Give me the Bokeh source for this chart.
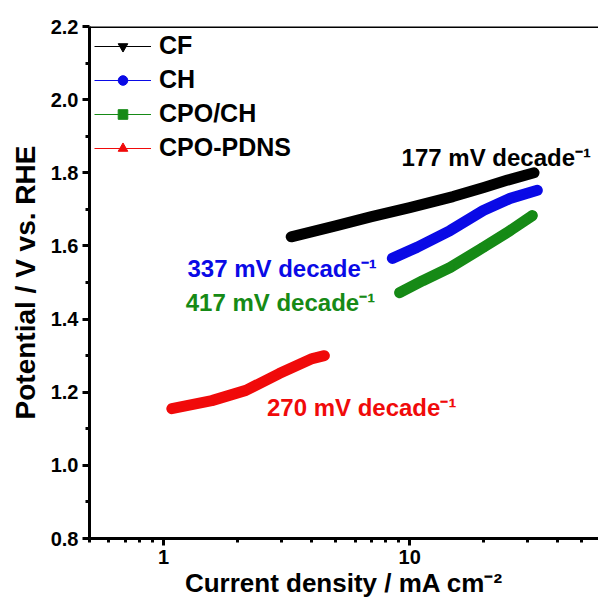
from bokeh.plotting import figure
from bokeh.models import (FixedTicker, PrintfTickFormatter, Span, Legend, LegendItem,
                          ColumnDataSource, Range1d)
from bokeh.core.properties import value
from bokeh.embed import file_html
from bokeh.resources import INLINE

# ---- data ----
cf_x = [3.3, 5.0, 7.0, 10.0, 15.0, 20.0, 25.0, 32.0]
cf_y = [1.625, 1.655, 1.680, 1.705, 1.735, 1.760, 1.780, 1.800]

ch_x = [8.5, 10.7, 14.6, 19.9, 25.6, 33.0]
ch_y = [1.566, 1.596, 1.642, 1.697, 1.730, 1.752]

cpoch_x = [9.1, 11.3, 14.6, 19.9, 25.6, 31.5]
cpoch_y = [1.472, 1.505, 1.541, 1.596, 1.642, 1.683]

pdns_x = [1.08, 1.57, 2.16, 2.95, 4.02, 4.5]
pdns_y = [1.155, 1.177, 1.205, 1.251, 1.292, 1.300]

series_names = ["CF", "CH", "CPO/CH", "CPO-PDNS"]
series_colors = ["#000000", "#0a0ae6", "#168a16", "#f00a0a"]
series_markers = ["inverted_triangle", "circle", "square", "triangle"]

ann_text = ["177 mV decade\u207b\u00b9", "337 mV decade\u207b\u00b9",
            "417 mV decade\u207b\u00b9", "270 mV decade\u207b\u00b9"]
ann_x = [9.27, 1.25, 1.23, 2.63]
ann_y = [1.842, 1.538, 1.445, 1.158]

x_major = [1, 10]
x_minor = [0.5, 0.6, 0.7, 0.8, 0.9, 2, 3, 4, 5, 6, 7, 8, 9, 20, 30, 40, 50]
y_major = [0.8, 1.0, 1.2, 1.4, 1.6, 1.8, 2.0, 2.2]
y_minor = [0.9, 1.1, 1.3, 1.5, 1.7, 1.9, 2.1]

FONT = "Liberation Sans"

p = figure(width=598, height=604, x_axis_type="log",
           x_range=Range1d(0.5, 58.5), y_range=Range1d(0.8, 2.2),
           output_backend="svg", toolbar_location=None,
           min_border_left=89, min_border_right=0, min_border_top=26,
           min_border_bottom=66)
p.grid.visible = False
p.outline_line_color = None
p.background_fill_color = "white"

for ax in (p.xaxis[0], p.yaxis[0]):
    ax.axis_line_width = 3
    ax.major_tick_line_width = 3
    ax.minor_tick_line_width = 3
    ax.major_tick_in = 0
    ax.major_tick_out = 7
    ax.minor_tick_in = 0
    ax.minor_tick_out = 4
    ax.major_label_text_font = FONT
    ax.major_label_text_font_style = "bold"
    ax.major_label_text_font_size = "20px"
    ax.major_label_text_color = "black"
    ax.axis_label_text_font = FONT
    ax.axis_label_text_font_style = "bold"
    ax.axis_label_text_font_size = "26px"
    ax.axis_label_text_color = "black"

p.xaxis.ticker = FixedTicker(ticks=x_major, minor_ticks=x_minor)
p.xaxis.formatter = PrintfTickFormatter(format="%d")
p.xaxis.major_label_standoff = 4
p.xaxis.axis_label = "Current density / mA cm\u207b\u00b2"
p.xaxis.axis_label_standoff = 1

p.yaxis.ticker = FixedTicker(ticks=y_major, minor_ticks=y_minor)
p.yaxis.formatter = PrintfTickFormatter(format="%.1f")
p.yaxis.major_label_standoff = 4
p.yaxis.axis_label = "Potential / V vs. RHE"
p.yaxis.axis_label_text_font_size = "28px"
p.yaxis.axis_label_standoff = 7

p.add_layout(Span(location=2.2, dimension="width", line_color="black", line_width=3))

data = [(cf_x, cf_y), (ch_x, ch_y), (cpoch_x, cpoch_y), (pdns_x, pdns_y)]
items = []
for (xs, ys), name, col, mk in zip(data, series_names, series_colors, series_markers):
    p.line(xs, ys, line_color=col, line_width=11, line_cap="round", line_join="round")
    lr = p.line(xs, ys, line_color=col, line_width=1)
    sr = p.scatter(xs, ys, marker=mk, fill_color=col, line_color=col, size=7)
    items.append(LegendItem(label=name, renderers=[lr, sr]))

legend = Legend(items=items, location="top_left", margin=5, padding=6,
                glyph_width=57, glyph_height=24, label_height=24, spacing=5,
                label_standoff=8, label_text_font=FONT, label_text_font_style="bold",
                label_text_font_size="25px", label_text_color="black",
                background_fill_alpha=0, border_line_color=None)
p.add_layout(legend)

src = ColumnDataSource(dict(x=ann_x, y=ann_y, t=ann_text, c=series_colors))
p.text(x="x", y="y", text="t", text_color="c", source=src,
       text_font=value(FONT), text_font_style="bold", text_font_size="24px",
       text_baseline="middle", text_align="left")

open("out.html", "w").write(file_html(p, INLINE))
